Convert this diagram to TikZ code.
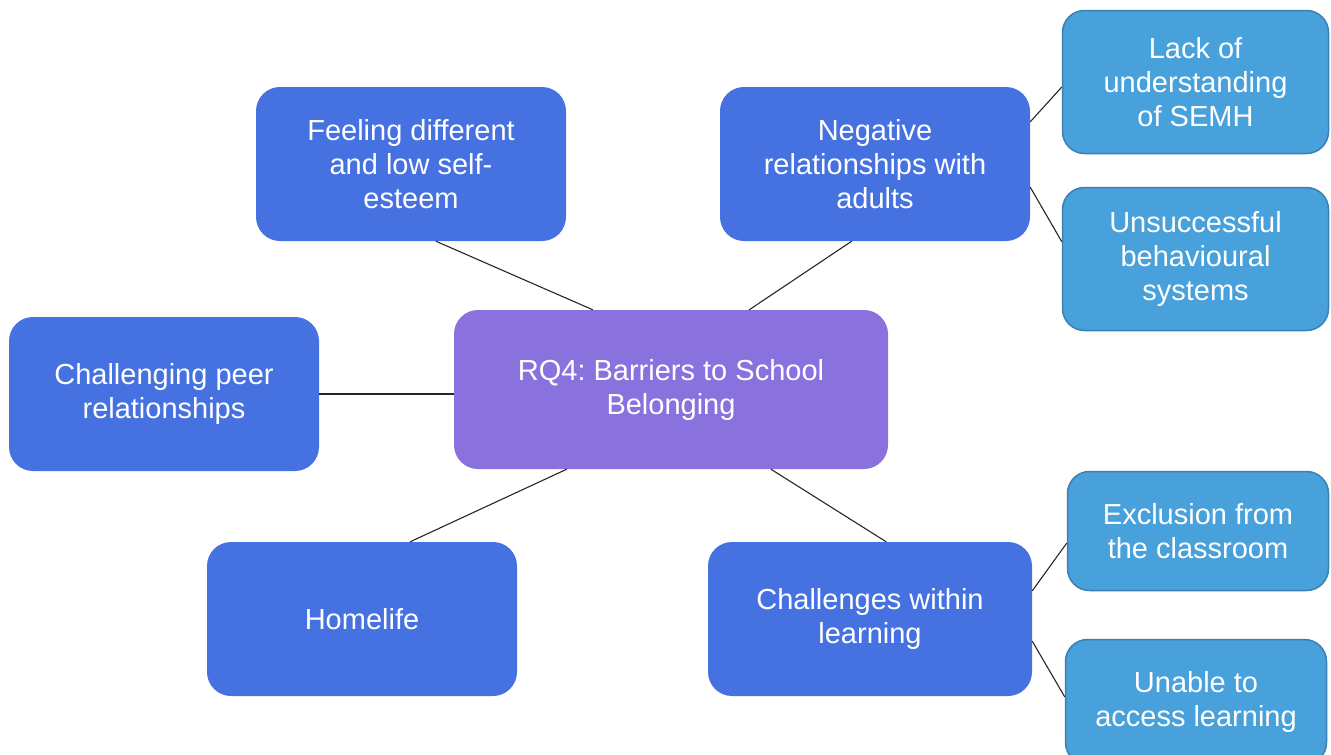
\documentclass[tikz,border=0pt]{standalone}
\usepackage{fontspec}
\setmainfont{Liberation Sans}
\usetikzlibrary{calc}
\frenchspacing
\definecolor{darkbox}{RGB}{70,114,225}
\definecolor{purplebox}{RGB}{137,114,222}
\definecolor{lightbox}{RGB}{72,161,219}
\definecolor{lightedge}{RGB}{58,128,178}
\tikzset{
  base/.style={rectangle, rounded corners=24pt, align=center, text=white, inner sep=0pt,
    font=\fontsize{29}{34}\selectfont},
  mainbox/.style={base, fill=darkbox, minimum width=310pt, minimum height=154pt},
  centerbox/.style={base, fill=purplebox, minimum width=434pt, minimum height=159pt},
  subbox/.style={base, fill=lightbox, draw=lightedge, line width=1.5pt, rounded corners=22pt},
  link/.style={draw=black!85, line width=1.1pt}
}
\begin{document}
\begin{tikzpicture}[x=1pt,y=-1pt]
\useasboundingbox (0,0) rectangle (1331,755);
\node[centerbox] (rq) at (671,389.5) {RQ4: Barriers to School\\Belonging};
\node[mainbox] (feel) at (411,164) {Feeling different\\and low self-\\esteem};
\node[mainbox] (neg) at (875,164) {Negative\\relationships with\\adults};
\node[mainbox] (peer) at (164,394) {Challenging peer\\relationships};
\node[mainbox] (home) at (362,619) {Homelife};
\node[mainbox, minimum width=324pt] (chal) at (870,619) {Challenges within\\learning};
\node[subbox, minimum width=266pt, minimum height=143pt] (lack) at (1195.5,82) {Lack of\\understanding\\of SEMH};
\node[subbox, minimum width=266pt, minimum height=143pt] (unsucc) at (1195.5,259) {Unsuccessful\\behavioural\\systems};
\node[subbox, minimum width=261pt, minimum height=119pt] (excl) at (1198,531) {Exclusion from\\the classroom};
\node[subbox, minimum width=261pt, minimum height=125pt] (unable) at (1196,702) {Unable to\\access learning};
\draw[link] ($(feel.south west)!0.58!(feel.south east)$) -- ($(rq.north west)!0.32!(rq.north east)$);
\draw[link] ($(neg.south west)!0.425!(neg.south east)$) -- ($(rq.north west)!0.68!(rq.north east)$);
\draw[link] (peer.east) -- (peer.east -| rq.west);
\draw[link] ($(rq.south west)!0.26!(rq.south east)$) -- ($(home.north west)!0.655!(home.north east)$);
\draw[link] ($(rq.south west)!0.73!(rq.south east)$) -- ($(chal.north west)!0.55!(chal.north east)$);
\draw[link] ($(neg.north east)!0.227!(neg.south east)$) -- ($(lack.north west)!0.535!(lack.south west)$);
\draw[link] ($(neg.north east)!0.65!(neg.south east)$) -- ($(unsucc.north west)!0.38!(unsucc.south west)$);
\draw[link] ($(chal.north east)!0.318!(chal.south east)$) -- ($(excl.north west)!0.6!(excl.south west)$);
\draw[link] ($(chal.north east)!0.643!(chal.south east)$) -- ($(unable.north west)!0.46!(unable.south west)$);
\end{tikzpicture}
\end{document}
